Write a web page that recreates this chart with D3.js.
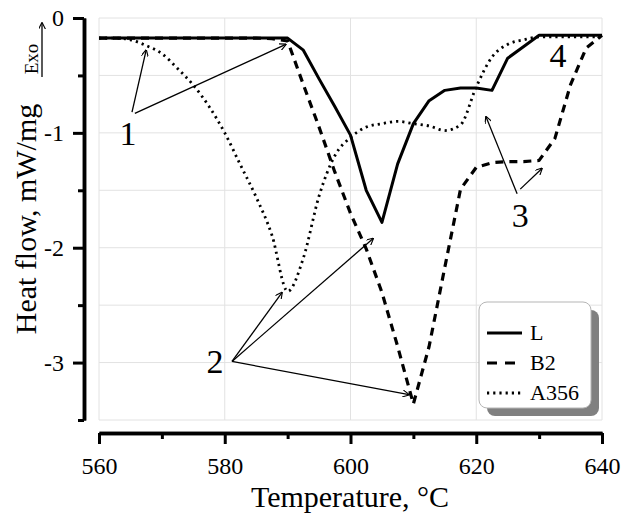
<!DOCTYPE html>
<html>
<head>
<meta charset="utf-8">
<script src="https://cdn.jsdelivr.net/npm/d3@7/dist/d3.min.js"></script>
<style>
  body { margin: 0; background: #fff; }
  svg text { font-family: "Liberation Serif", "Times New Roman", serif; fill: #000; }
</style>
</head>
<body>
<script>
// temperature steps, deg C
const temps = [560, 562.5, 565, 567.5, 570, 572.5, 575, 577.5, 580, 582.5, 585, 587.5,
  590, 592.5, 595, 597.5, 600, 602.5, 605, 607.5, 610, 612.5, 615, 617.5,
  620, 622.5, 625, 627.5, 630, 632.5, 635, 637.5, 640];

// heat flow, mW/mg
const flowL = [-0.175, -0.175, -0.175, -0.175, -0.175, -0.175, -0.175, -0.175, -0.175, -0.175, -0.175, -0.175,
  -0.175, -0.28, -0.53, -0.77, -1.02, -1.50, -1.78, -1.27, -0.92, -0.72, -0.63, -0.61,
  -0.61, -0.63, -0.35, -0.25, -0.15, -0.15, -0.15, -0.15, -0.15];
const flowB2 = [-0.175, -0.175, -0.175, -0.175, -0.175, -0.175, -0.175, -0.175, -0.175, -0.175, -0.175, -0.18,
  -0.2, -0.58, -0.95, -1.34, -1.70, -2.01, -2.39, -2.86, -3.36, -2.86, -2.17, -1.49,
  -1.30, -1.26, -1.25, -1.25, -1.24, -1.05, -0.58, -0.26, -0.15];
const flowA356 = [-0.175, -0.175, -0.19, -0.24, -0.31, -0.44, -0.585, -0.77, -1.00, -1.28, -1.56, -1.89,
  -2.38, -2.09, -1.55, -1.20, -1.04, -0.95, -0.92, -0.90, -0.92, -0.94, -0.98, -0.93,
  -0.60, -0.34, -0.23, -0.19, -0.165, -0.165, -0.165, -0.165, -0.165];

const seriesNames = ["L", "B2", "A356"];
const xMajor = [560, 580, 600, 620, 640];
const xMinor = [570, 590, 610, 630];
const yMajor = [0, -1, -2, -3];
const yMinor = [-0.5, -1.5, -2.5, -3.5];

// annotation labels and arrows, in data units
const noteLabels = [
  { text: "1", t: 564.6, v: -1.11 },
  { text: "2", t: 578.45, v: -3.09 },
  { text: "3", t: 627, v: -1.82 },
  { text: "4", t: 633, v: -0.43 }
];
const noteArrows = [
  [565.25, -0.82, 567.5, -0.28],
  [565.7, -0.83, 589.7, -0.23],
  [581.15, -2.99, 589.1, -2.39],
  [581.15, -2.99, 603.6, -1.92],
  [581.15, -2.99, 609.3, -3.28],
  [626.5, -1.53, 621.55, -0.86],
  [627, -1.49, 630.45, -1.31]
];

const width = 627;
const height = 515;
const plotLeft = 99, plotRight = 602, plotTop = 18, plotBottom = 420;
const serif = "'Liberation Serif', 'Times New Roman', serif";

const svg = d3.select("body").append("svg")
  .attr("width", width)
  .attr("height", height)
  .attr("font-family", serif);

const xScale = d3.scaleLinear().domain([560, 640]).range([plotLeft, plotRight]);
const yScale = d3.scaleLinear().domain([0, -3.5]).range([plotTop, plotBottom]);

// grid
const grid = svg.append("g").attr("stroke", "#e2e2e2").attr("stroke-width", 1);
grid.selectAll("line.gx")
  .data(xMajor)
  .join("line")
  .attr("class", "gx")
  .attr("x1", d => xScale(d)).attr("x2", d => xScale(d))
  .attr("y1", plotTop).attr("y2", plotBottom);
grid.selectAll("line.gy")
  .data(yMajor.concat(yMinor))
  .join("line")
  .attr("class", "gy")
  .attr("x1", plotLeft).attr("x2", plotRight)
  .attr("y1", d => yScale(d)).attr("y2", d => yScale(d));

// axes
const styleAxis = (g) => {
  g.attr("font-family", serif).attr("font-size", 24);
  g.select(".domain").attr("stroke-width", 3.5);
  g.selectAll(".tick line").attr("stroke-width", 3);
};

const xAxisY = 433;
svg.append("g")
  .attr("transform", "translate(0," + xAxisY + ")")
  .call(d3.axisBottom(xScale).tickValues(xMinor).tickSize(6).tickSizeOuter(0).tickFormat(""))
  .call(styleAxis);
svg.append("g")
  .attr("transform", "translate(0," + xAxisY + ")")
  .call(d3.axisBottom(xScale).tickValues(xMajor).tickSize(11).tickSizeOuter(0).tickPadding(13))
  .call(styleAxis);

const yAxisX = 84;
svg.append("g")
  .attr("transform", "translate(" + yAxisX + ",0)")
  .call(d3.axisLeft(yScale).tickValues(yMinor).tickSize(6).tickSizeOuter(0).tickFormat(""))
  .call(styleAxis);
svg.append("g")
  .attr("transform", "translate(" + yAxisX + ",0)")
  .call(d3.axisLeft(yScale).tickValues(yMajor).tickSize(11).tickSizeOuter(0).tickPadding(9)
    .tickFormat(d => String(d)))
  .call(styleAxis);

// axis titles
svg.append("text")
  .attr("x", 350).attr("y", 507)
  .attr("text-anchor", "middle")
  .attr("font-size", 30)
  .text("Temperature, °C");

svg.append("text")
  .attr("transform", "translate(36,219) rotate(-90)")
  .attr("text-anchor", "middle")
  .attr("font-size", 30)
  .text("Heat flow, mW/mg");

svg.append("text")
  .attr("transform", "translate(38,59) rotate(-90)")
  .attr("text-anchor", "middle")
  .attr("font-size", 19)
  .text("Exo");

svg.append("defs").append("marker")
  .attr("id", "arr")
  .attr("viewBox", "0 0 10 10")
  .attr("refX", 9).attr("refY", 5)
  .attr("markerWidth", 7).attr("markerHeight", 7)
  .attr("markerUnits", "userSpaceOnUse")
  .attr("orient", "auto")
  .append("path")
  .attr("d", "M0,0 L10,5 L0,10")
  .attr("fill", "none")
  .attr("stroke", "#000")
  .attr("stroke-width", 1.6);

svg.append("line")
  .attr("x1", 42).attr("x2", 42)
  .attr("y1", 77).attr("y2", 23)
  .attr("stroke", "#000").attr("stroke-width", 1.3)
  .attr("marker-end", "url(#arr)");

// curves
const series = [
  { name: "L", values: flowL, dash: null, width: 3, curve: d3.curveLinear },
  { name: "B2", values: flowB2, dash: "8,6", width: 3.2, curve: d3.curveLinear },
  { name: "A356", values: flowA356, dash: "2.2,4", width: 2.8, curve: d3.curveMonotoneX }
];

series.forEach((s) => {
  const line = d3.line()
    .x((d, i) => xScale(temps[i]))
    .y(d => yScale(d))
    .curve(s.curve);
  svg.append("path")
    .datum(s.values)
    .attr("fill", "none")
    .attr("stroke", "#000")
    .attr("stroke-width", s.width)
    .attr("stroke-dasharray", s.dash)
    .attr("stroke-linejoin", "round")
    .attr("d", line);
});

// annotations
svg.selectAll("line.note")
  .data(noteArrows)
  .join("line")
  .attr("class", "note")
  .attr("x1", d => xScale(d[0])).attr("y1", d => yScale(d[1]))
  .attr("x2", d => xScale(d[2])).attr("y2", d => yScale(d[3]))
  .attr("stroke", "#000")
  .attr("stroke-width", 1.3)
  .attr("marker-end", "url(#arr)");

svg.selectAll("text.note")
  .data(noteLabels)
  .join("text")
  .attr("class", "note")
  .attr("x", d => xScale(d.t))
  .attr("y", d => yScale(d.v))
  .attr("text-anchor", "middle")
  .attr("font-size", 34)
  .text(d => d.text);

// legend
const legend = svg.append("g").attr("transform", "translate(479,302)");
legend.append("rect")
  .attr("x", 8).attr("y", 8)
  .attr("width", 112).attr("height", 106)
  .attr("rx", 8)
  .attr("fill", "#808080");
legend.append("rect")
  .attr("width", 112).attr("height", 106)
  .attr("rx", 8)
  .attr("fill", "#fff")
  .attr("stroke", "#b5b5b5");

const items = legend.selectAll("g.item")
  .data(series)
  .join("g")
  .attr("class", "item")
  .attr("transform", (d, i) => "translate(0," + (31 + i * 30) + ")");
items.append("line")
  .attr("x1", 8).attr("x2", 43)
  .attr("y1", 0).attr("y2", 0)
  .attr("stroke", "#000")
  .attr("stroke-width", d => d.width)
  .attr("stroke-dasharray", d => d.dash === "8,6" ? "10,8" : d.dash);
items.append("text")
  .attr("x", 51).attr("y", 7)
  .attr("font-size", 22)
  .text(d => d.name);
</script>
</body>
</html>
